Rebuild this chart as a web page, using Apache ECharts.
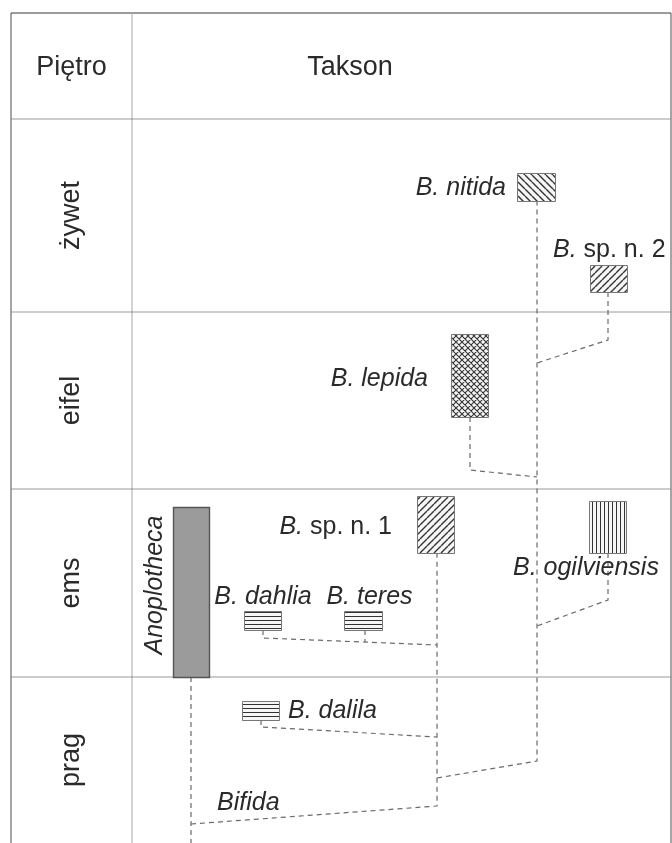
<!DOCTYPE html>
<html>
<head>
<meta charset="utf-8">
<script src="https://cdn.jsdelivr.net/npm/echarts@6/dist/echarts.min.js"></script>
<style>
  html, body { margin: 0; padding: 0; background: #fff; }
  #chart { width: 672px; height: 843px; }
</style>
</head>
<body>
<div id="chart"></div>
<script>
// ---- Section frame (section units: x across the taxon column, y up-section) ----
const stages = ['prag', 'ems', 'eifel', 'żywet'];
const stageBounds = [0, 16.6, 35.4, 53.1, 72.4];   // base of prag ... top of żywet
const headerTop = 83;
const columnSplit = 12.1;
const tableRight = 66;
const headers = ['Piętro', 'Takson'];
const headerX = [6.05, 33.9];
const headerY = 77.5;

// ---- Taxon ranges ----
const taxa = ['B. nitida', 'B. sp. n. 2', 'B. lepida', 'B. sp. n. 1', 'B. ogilviensis',
              'Anoplotheca', 'B. dahlia', 'B. teres', 'B. dalila'];
const rangeX0   = [50.6, 57.9, 44.0, 40.6, 57.8, 16.2, 23.3, 33.3, 23.1];
const rangeX1   = [54.4, 61.6, 47.7, 44.3, 61.5, 19.8, 27.0, 37.1, 26.8];
const rangeBase = [64.2, 55.1, 42.6, 29.0, 29.0, 16.6, 21.3, 21.3, 12.3];
const rangeTop  = [67.0, 57.8, 50.9, 34.7, 34.2, 33.6, 23.2, 23.2, 14.2];
const rangeFill = ['diagDown', 'diagUp', 'cross', 'diagUp', 'vertical',
                   'solid', 'horizontal', 'horizontal', 'horizontal'];

// ---- Name labels ----
const labelText = ['{i|B. nitida}', '{i|B.}{n| sp. n. 2}', '{i|B. lepida}', '{i|B.}{n| sp. n. 1}',
                   '{i|B. ogilviensis}', '{i|Anoplotheca}', '{i|B. dahlia}', '{i|B. teres}',
                   '{i|B. dalila}', '{i|Bifida}'];
const labelX = [49.5, 54.2, 41.7, 38.1, 50.2, 14.4, 25.2, 35.85, 27.7, 20.6];
const labelY = [65.5, 59.3, 46.4, 31.6, 27.5, 25.8, 24.6, 24.6, 13.2, 4.0];
const labelAlign = ['right', 'left', 'right', 'right', 'left', 'center', 'center', 'center', 'left', 'left'];
const labelTurn = [0, 0, 0, 0, 0, 1, 0, 0, 0, 0];

// ---- Inferred lineages (dashed) ----
const lineages = [
  [[18.0, 16.6], [18.0, -1]],                      // Anoplotheca downward
  [[18.0, 1.9], [42.6, 3.7], [42.6, 29.0]],         // Bifida stem to B. sp. n. 1
  [[25.0, 12.3], [25.0, 11.6], [42.6, 10.6]],       // B. dalila
  [[25.2, 21.3], [25.2, 20.5], [42.6, 19.8]],       // B. dahlia
  [[35.4, 21.3], [35.4, 20.1]],                     // B. teres
  [[42.6, 6.5], [52.6, 8.2], [52.6, 64.2]],         // branch to B. nitida
  [[59.7, 29.0], [59.7, 24.3], [52.6, 21.7]],       // B. ogilviensis
  [[45.9, 42.6], [45.9, 37.3], [52.6, 36.6]],       // B. lepida
  [[59.7, 55.1], [59.7, 50.3], [52.6, 48.0]]        // B. sp. n. 2
];

const FONT = '"Liberation Sans", Arial, Helvetica, sans-serif';
const INK = '#2a2a2a';

// Small repeating tiles used as hatch fills
function makeTile(kind) {
  const s = { diagDown: 7, diagUp: 7, cross: 6, vertical: 4, horizontal: 4 }[kind];
  const c = document.createElement('canvas');
  c.width = s; c.height = s;
  const g = c.getContext('2d');
  g.fillStyle = '#f6f6f6';
  g.fillRect(0, 0, s, s);
  g.strokeStyle = '#333';
  g.lineWidth = kind === 'cross' ? 1.1 : (kind === 'vertical' || kind === 'horizontal') ? 1 : 1.4;
  g.beginPath();
  if (kind === 'diagDown' || kind === 'cross') {
    for (const o of [-s, 0, s]) { g.moveTo(o, 0); g.lineTo(o + s, s); }
  }
  if (kind === 'diagUp' || kind === 'cross') {
    for (const o of [-s, 0, s]) { g.moveTo(o, s); g.lineTo(o + s, 0); }
  }
  if (kind === 'vertical') { g.moveTo(0.5, 0); g.lineTo(0.5, s); }
  if (kind === 'horizontal') { g.moveTo(0, 0.5); g.lineTo(s, 0.5); }
  g.stroke();
  return c;
}
const tiles = {};
['diagDown', 'diagUp', 'cross', 'vertical', 'horizontal'].forEach(k => { tiles[k] = makeTile(k); });

// Table rules built from the stage boundaries
const tableRules = [];
const dark = { color: '#3a3a3a', width: 1.8 };
tableRules.push({ coords: [[0, headerTop], [tableRight, headerTop]], lineStyle: dark });
tableRules.push({ coords: [[0, 0], [0, headerTop]], lineStyle: dark });
tableRules.push({ coords: [[tableRight, 0], [tableRight, headerTop]], lineStyle: dark });
tableRules.push({ coords: [[columnSplit, 0], [columnSplit, headerTop]], lineStyle: { color: '#a8a8a8', width: 2 } });
stageBounds.slice(1).forEach(y => {
  tableRules.push({ coords: [[0, y], [tableRight, y]], lineStyle: { color: '#7a7a7a', width: 1.6 } });
});

const richStyles = {
  i: { fontFamily: FONT, fontSize: 25, fontStyle: 'italic', fill: INK },
  n: { fontFamily: FONT, fontSize: 25, fill: INK }
};

const chart = echarts.init(document.getElementById('chart'), null, { renderer: 'canvas' });

chart.setOption({
  animation: false,
  backgroundColor: '#fff',
  grid: { left: 11, right: 1, top: 13, bottom: 0 },
  xAxis: { type: 'value', min: 0, max: tableRight, show: false },
  yAxis: { type: 'value', min: 0, max: headerTop, show: false },
  series: [
    {
      name: 'table',
      type: 'lines',
      coordinateSystem: 'cartesian2d',
      polyline: true,
      silent: true,
      clip: false,
      z: 1,
      data: tableRules
    },
    {
      name: 'lineages',
      type: 'lines',
      coordinateSystem: 'cartesian2d',
      polyline: true,
      silent: true,
      clip: false,
      z: 2,
      lineStyle: { color: '#6a6a6a', width: 1.2, type: [5, 4], opacity: 1 },
      data: lineages.map(c => ({ coords: c }))
    },
    {
      name: 'ranges',
      type: 'custom',
      coordinateSystem: 'cartesian2d',
      clip: false,
      z: 3,
      silent: true,
      data: taxa.map((t, i) => [rangeX0[i], rangeX1[i], rangeBase[i], rangeTop[i], i]),
      encode: { x: [0, 1], y: [2, 3] },
      renderItem(params, api) {
        const i = api.value(4);
        const a = api.coord([api.value(0), api.value(3)]);
        const b = api.coord([api.value(1), api.value(2)]);
        const kind = rangeFill[i];
        const solid = kind === 'solid';
        return {
          type: 'rect',
          shape: { x: Math.round(a[0]) + 0.5, y: Math.round(a[1]) + 0.5,
                   width: Math.round(b[0] - a[0]), height: Math.round(b[1] - a[1]) },
          style: {
            fill: solid ? '#9b9b9b' : { image: tiles[kind], repeat: 'repeat' },
            stroke: solid ? '#555' : '#777',
            lineWidth: solid ? 1.4 : 1
          }
        };
      }
    },
    {
      name: 'names',
      type: 'custom',
      coordinateSystem: 'cartesian2d',
      clip: false,
      z: 4,
      silent: true,
      data: labelText.map((t, i) => [labelX[i], labelY[i], i]),
      renderItem(params, api) {
        const i = api.value(2);
        const p = api.coord([api.value(0), api.value(1)]);
        return {
          type: 'text',
          x: p[0], y: p[1],
          rotation: labelTurn[i] ? Math.PI / 2 : 0,
          style: {
            text: labelText[i],
            rich: richStyles,
            fontFamily: FONT, fontSize: 25, fill: INK,
            align: labelAlign[i], verticalAlign: 'middle'
          }
        };
      }
    },
    {
      name: 'stages',
      type: 'custom',
      coordinateSystem: 'cartesian2d',
      clip: false,
      z: 4,
      silent: true,
      data: stages.map((s, i) => [columnSplit / 2, (stageBounds[i] + stageBounds[i + 1]) / 2, i]),
      renderItem(params, api) {
        const i = api.value(2);
        const p = api.coord([api.value(0), api.value(1)]);
        return {
          type: 'text', x: p[0], y: p[1], rotation: Math.PI / 2,
          style: { text: stages[i], fontFamily: FONT, fontSize: 27, fill: INK,
                   align: 'center', verticalAlign: 'middle' }
        };
      }
    },
    {
      name: 'headers',
      type: 'custom',
      coordinateSystem: 'cartesian2d',
      clip: false,
      z: 4,
      silent: true,
      data: headers.map((h, i) => [headerX[i], headerY, i]),
      renderItem(params, api) {
        const i = api.value(2);
        const p = api.coord([api.value(0), api.value(1)]);
        return {
          type: 'text', x: p[0], y: p[1],
          style: { text: headers[i], fontFamily: FONT, fontSize: 27, fill: INK,
                   align: 'center', verticalAlign: 'middle' }
        };
      }
    }
  ]
});
</script>
</body>
</html>
